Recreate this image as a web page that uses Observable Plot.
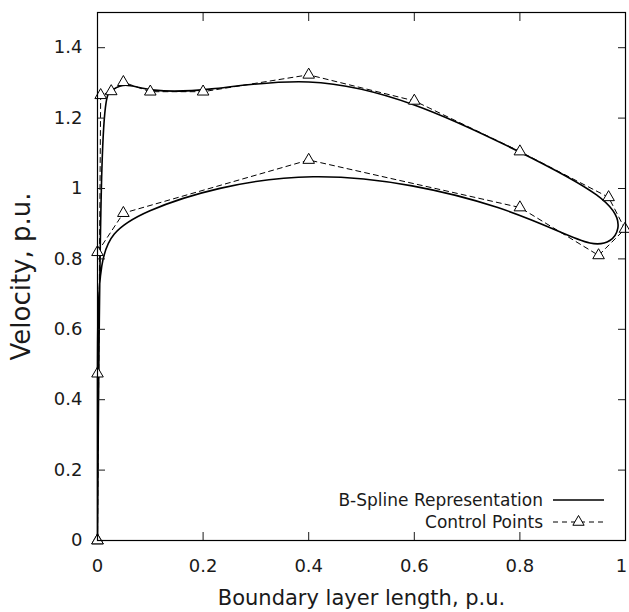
<!DOCTYPE html>
<html>
<head>
<meta charset="utf-8">
<script src="https://cdn.jsdelivr.net/npm/d3@7"></script>
<script src="https://cdn.jsdelivr.net/npm/@observablehq/plot@0.6"></script>
<style>
  body { margin: 0; background: #fff; }
  #chart { width: 629px; height: 612px; }
</style>
</head>
<body>
<div id="chart"></div>
<script>
// Control polygon of the B-spline (closed loop starting and ending at the origin)
const ctrlX = [0, 0.006, 0.026, 0.049, 0.1, 0.2, 0.4, 0.6, 0.8, 0.968, 0.999, 0.949, 0.8, 0.4, 0.049, 0, 0, 0];
const ctrlY = [0, 1.265, 1.276, 1.302, 1.275, 1.275, 1.323, 1.249, 1.105, 0.975, 0.885, 0.81, 0.946, 1.081, 0.93, 0.819, 0.474, 0];

const xTicks = [0, 0.2, 0.4, 0.6, 0.8, 1];
const yTicks = [0, 0.2, 0.4, 0.6, 0.8, 1, 1.2, 1.4];
const xLabel = "Boundary layer length, p.u.";
const yLabel = "Velocity, p.u.";
const seriesNames = ["B-Spline Representation", "Control Points"];

const pts = ctrlX.map((x, i) => ({x, y: ctrlY[i]}));
const fmt = d => String(d);
const FONT = "'DejaVu Sans', sans-serif";
const lastX = xTicks[xTicks.length - 1];

const chart = Plot.plot({
  width: 629,
  height: 612,
  marginLeft: 97,
  marginRight: 4,
  marginTop: 12,
  marginBottom: 72,
  style: {fontFamily: FONT, fontSize: "18px", color: "#1a1a1a", background: "#fff", overflow: "visible"},
  x: {domain: [0, 1]},
  y: {domain: [0, 1.5]},
  marks: [
    Plot.line(pts, {x: "x", y: "y", curve: "basis", stroke: "#000", strokeWidth: 1.6}),
    Plot.line(pts, {x: "x", y: "y", stroke: "#000", strokeWidth: 1, strokeDasharray: "5,4"}),
    Plot.dot(pts, {x: "x", y: "y", symbol: "triangle", r: 4.3, fill: "#fff", stroke: "#000", strokeWidth: 1}),
    Plot.axisX(xTicks, {anchor: "bottom", tickSize: -8, tickPadding: 27,
      tickFormat: d => d === lastX ? "" : fmt(d),
      label: xLabel, labelAnchor: "center", labelArrow: "none", labelOffset: 64, fontSize: 18}),
    Plot.axisX([lastX], {anchor: "bottom", tickSize: 0, tickPadding: 19, dx: -4, tickFormat: fmt, label: null, fontSize: 18}),
    Plot.axisX(xTicks, {anchor: "top", tickSize: -8, tickFormat: () => "", label: null}),
    Plot.axisY(yTicks, {anchor: "left", tickSize: -8, tickPadding: 23, tickFormat: fmt,
      label: yLabel, labelAnchor: "center", labelArrow: "none", labelOffset: 86, fontSize: 18}),
    Plot.axisY(yTicks, {anchor: "right", tickSize: -8, tickFormat: () => "", label: null}),
    Plot.frame({stroke: "#000", strokeWidth: 1.2})
  ]
});

document.getElementById("chart").appendChild(chart);

// axis title font sizes
d3.select(chart).selectAll("g[aria-label='x-axis label'] text").style("font-size", "21px");
d3.select(chart).selectAll("g[aria-label='y-axis label'] text").style("font-size", "26px");

// Legend inside the plot, bottom-right
const svg = d3.select(chart);
const lg = svg.append("g").attr("font-family", FONT).attr("font-size", 17).attr("fill", "#1a1a1a");
const rows = [
  {name: seriesNames[0], y: 500, dash: null, marker: false, w: 1.6},
  {name: seriesNames[1], y: 522, dash: "5,4", marker: true, w: 1}
];
rows.forEach(r => {
  lg.append("text").attr("x", 543).attr("y", r.y).attr("dy", "0.35em").attr("text-anchor", "end").text(r.name);
  lg.append("line").attr("x1", 553).attr("x2", 604).attr("y1", r.y).attr("y2", r.y)
    .attr("stroke", "#000").attr("stroke-width", r.w).attr("stroke-dasharray", r.dash);
  if (r.marker) {
    lg.append("path").attr("d", d3.symbol(d3.symbolTriangle, 55)())
      .attr("transform", `translate(578.5,${r.y})`).attr("fill", "#fff").attr("stroke", "#000");
  }
});
</script>
</body>
</html>
